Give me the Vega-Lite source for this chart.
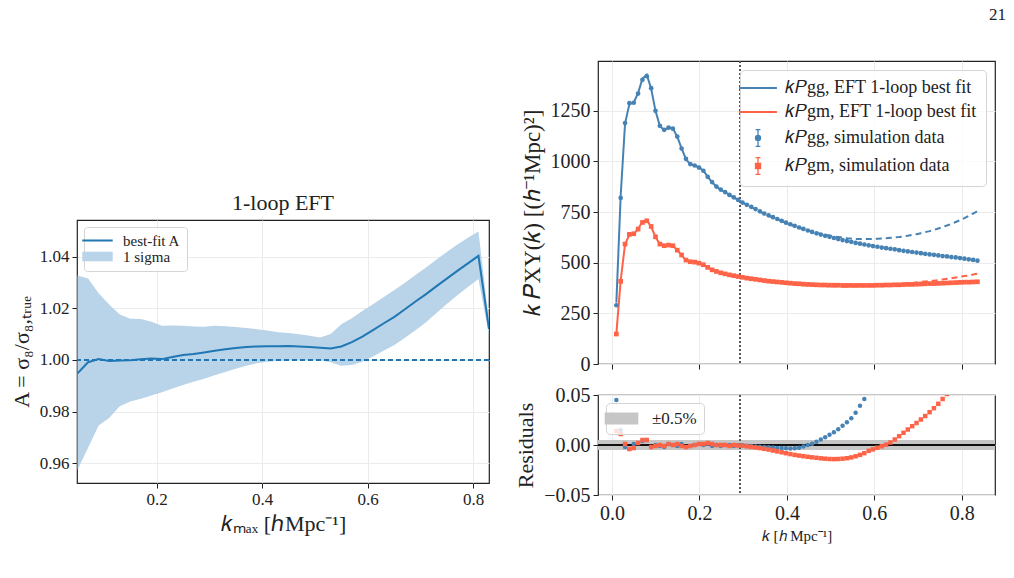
{
  "$schema": "https://vega.github.io/schema/vega-lite/v6.json",
  "background": "white",
  "padding": {"left": 9, "top": 5, "right": 5, "bottom": 5},
  "title": {"text": "21", "anchor": "end", "fontSize": 17, "fontWeight": "normal", "offset": 36, "dx": 10},
  "datasets": {
    "amp": [
      {"km": 0.05, "A": 0.9948, "lo": 0.9574, "hi": 1.0327},
      {"km": 0.07, "A": 0.9991, "lo": 0.9660, "hi": 1.0315},
      {"km": 0.09, "A": 1.0003, "lo": 0.9746, "hi": 1.0258},
      {"km": 0.11, "A": 0.9996, "lo": 0.9775, "hi": 1.0215},
      {"km": 0.13, "A": 0.9998, "lo": 0.9820, "hi": 1.0176},
      {"km": 0.15, "A": 0.9999, "lo": 0.9839, "hi": 1.0159},
      {"km": 0.17, "A": 1.0002, "lo": 0.9849, "hi": 1.0158},
      {"km": 0.19, "A": 1.0005, "lo": 0.9862, "hi": 1.0148},
      {"km": 0.21, "A": 1.0003, "lo": 0.9875, "hi": 1.0132},
      {"km": 0.23, "A": 1.0011, "lo": 0.9889, "hi": 1.0133},
      {"km": 0.25, "A": 1.0019, "lo": 0.9903, "hi": 1.0132},
      {"km": 0.27, "A": 1.0023, "lo": 0.9915, "hi": 1.0129},
      {"km": 0.29, "A": 1.0029, "lo": 0.9927, "hi": 1.0128},
      {"km": 0.31, "A": 1.0035, "lo": 0.9940, "hi": 1.0132},
      {"km": 0.33, "A": 1.0041, "lo": 0.9953, "hi": 1.0130},
      {"km": 0.35, "A": 1.0046, "lo": 0.9966, "hi": 1.0127},
      {"km": 0.37, "A": 1.0050, "lo": 0.9977, "hi": 1.0124},
      {"km": 0.39, "A": 1.0052, "lo": 0.9987, "hi": 1.0119},
      {"km": 0.41, "A": 1.0053, "lo": 0.9993, "hi": 1.0114},
      {"km": 0.43, "A": 1.0053, "lo": 0.9996, "hi": 1.0107},
      {"km": 0.45, "A": 1.0054, "lo": 0.9999, "hi": 1.0104},
      {"km": 0.47, "A": 1.0052, "lo": 0.9999, "hi": 1.0099},
      {"km": 0.49, "A": 1.0050, "lo": 0.9999, "hi": 1.0094},
      {"km": 0.51, "A": 1.0047, "lo": 0.9999, "hi": 1.0087},
      {"km": 0.53, "A": 1.0044, "lo": 0.9991, "hi": 1.0100},
      {"km": 0.55, "A": 1.0052, "lo": 0.9977, "hi": 1.0138},
      {"km": 0.57, "A": 1.0069, "lo": 0.9980, "hi": 1.0161},
      {"km": 0.59, "A": 1.0090, "lo": 0.9993, "hi": 1.0189},
      {"km": 0.61, "A": 1.0115, "lo": 1.0013, "hi": 1.0216},
      {"km": 0.63, "A": 1.0141, "lo": 1.0035, "hi": 1.0243},
      {"km": 0.65, "A": 1.0166, "lo": 1.0057, "hi": 1.0270},
      {"km": 0.67, "A": 1.0195, "lo": 1.0085, "hi": 1.0298},
      {"km": 0.69, "A": 1.0225, "lo": 1.0114, "hi": 1.0328},
      {"km": 0.71, "A": 1.0254, "lo": 1.0145, "hi": 1.0357},
      {"km": 0.73, "A": 1.0285, "lo": 1.0181, "hi": 1.0388},
      {"km": 0.75, "A": 1.0315, "lo": 1.0217, "hi": 1.0418},
      {"km": 0.77, "A": 1.0345, "lo": 1.0250, "hi": 1.0447},
      {"km": 0.79, "A": 1.0374, "lo": 1.0282, "hi": 1.0473},
      {"km": 0.81, "A": 1.0403, "lo": 1.0313, "hi": 1.0497},
      {"km": 0.83, "A": 1.0120, "lo": 1.0095, "hi": 1.0150}
    ],
    "pk": [
      {"k": 0.0100, "gg": 290, "gm": 148, "fgg": 303, "fgm": 150, "rgg": 0.045, "rgm": 0.014},
      {"k": 0.0199, "gg": 820, "gm": 408, "fgg": 832, "fgm": 412.5, "rgg": 0.015, "rgm": 0.011},
      {"k": 0.0299, "gg": 1190, "gm": 592, "fgg": 1188, "fgm": 592.6, "rgg": -0.002, "rgm": 0.001},
      {"k": 0.0398, "gg": 1288, "gm": 640, "fgg": 1283, "fgm": 637.4, "rgg": -0.004, "rgm": -0.004},
      {"k": 0.0498, "gg": 1290, "gm": 643, "fgg": 1291, "fgm": 641.1, "rgg": 0.001, "rgm": -0.003},
      {"k": 0.0597, "gg": 1335, "gm": 666, "fgg": 1338, "fgm": 667.3, "rgg": 0.002, "rgm": 0.002},
      {"k": 0.0697, "gg": 1403, "gm": 699, "fgg": 1409, "fgm": 702.5, "rgg": 0.004, "rgm": 0.005},
      {"k": 0.0796, "gg": 1421, "gm": 707, "fgg": 1428, "fgm": 710.5, "rgg": 0.005, "rgm": 0.005},
      {"k": 0.0896, "gg": 1362, "gm": 679, "fgg": 1359, "fgm": 677.6, "rgg": -0.002, "rgm": -0.002},
      {"k": 0.0995, "gg": 1250, "gm": 628, "fgg": 1250, "fgm": 627.4, "rgg": 0.000, "rgm": -0.001},
      {"k": 0.1095, "gg": 1176, "gm": 592, "fgg": 1175, "fgm": 592, "rgg": -0.001, "rgm": 0.000},
      {"k": 0.1194, "gg": 1156, "gm": 584, "fgg": 1154, "fgm": 583.4, "rgg": -0.002, "rgm": -0.001},
      {"k": 0.1294, "gg": 1167, "gm": 587, "fgg": 1168, "fgm": 587.6, "rgg": 0.001, "rgm": 0.001},
      {"k": 0.1393, "gg": 1162, "gm": 584, "fgg": 1162, "fgm": 584, "rgg": 0.000, "rgm": 0.000},
      {"k": 0.1493, "gg": 1123, "gm": 562, "fgg": 1122, "fgm": 562.6, "rgg": -0.001, "rgm": 0.001},
      {"k": 0.1592, "gg": 1064, "gm": 538, "fgg": 1065, "fgm": 537.5, "rgg": 0.001, "rgm": -0.001},
      {"k": 0.1692, "gg": 1013, "gm": 513, "fgg": 1011, "fgm": 512, "rgg": -0.002, "rgm": -0.002},
      {"k": 0.1791, "gg": 987, "gm": 505, "fgg": 986, "fgm": 504.5, "rgg": -0.001, "rgm": -0.001},
      {"k": 0.1891, "gg": 980, "gm": 503, "fgg": 980, "fgm": 503, "rgg": 0.000, "rgm": 0.000},
      {"k": 0.1990, "gg": 970, "gm": 498, "fgg": 971, "fgm": 498.5, "rgg": 0.001, "rgm": 0.001},
      {"k": 0.2090, "gg": 954, "gm": 490, "fgg": 954, "fgm": 490.5, "rgg": 0.000, "rgm": 0.001},
      {"k": 0.2189, "gg": 924, "gm": 477, "fgg": 925, "fgm": 478, "rgg": 0.001, "rgm": 0.002},
      {"k": 0.2289, "gg": 898, "gm": 465, "fgg": 897, "fgm": 465.5, "rgg": -0.001, "rgm": 0.001},
      {"k": 0.2388, "gg": 876, "gm": 457, "fgg": 876, "fgm": 457, "rgg": 0.000, "rgm": 0.000},
      {"k": 0.2488, "gg": 861, "gm": 450, "fgg": 860, "fgm": 450, "rgg": -0.001, "rgm": 0.000},
      {"k": 0.2587, "gg": 849, "gm": 445, "fgg": 849, "fgm": 445, "rgg": 0.000, "rgm": 0.000},
      {"k": 0.2687, "gg": 835, "gm": 440, "fgg": 835, "fgm": 439.6, "rgg": 0.000, "rgm": -0.001},
      {"k": 0.2786, "gg": 823, "gm": 436, "fgg": 822, "fgm": 436, "rgg": -0.001, "rgm": 0.000},
      {"k": 0.2886, "gg": 810, "gm": 432, "fgg": 810, "fgm": 431.8, "rgg": 0.000, "rgm": -0.0005},
      {"k": 0.2985, "gg": 797, "gm": 428, "fgg": 796.8, "fgm": 427.7, "rgg": -0.0003, "rgm": -0.0007},
      {"k": 0.3085, "gg": 786, "gm": 424, "fgg": 785.4, "fgm": 423.4, "rgg": -0.0008, "rgm": -0.0013},
      {"k": 0.3184, "gg": 776, "gm": 421, "fgg": 775.1, "fgm": 420.2, "rgg": -0.0011, "rgm": -0.0019},
      {"k": 0.3284, "gg": 765, "gm": 418, "fgg": 763.9, "fgm": 417.0, "rgg": -0.0014, "rgm": -0.0025},
      {"k": 0.3383, "gg": 754, "gm": 415, "fgg": 752.7, "fgm": 413.7, "rgg": -0.0017, "rgm": -0.0031},
      {"k": 0.3483, "gg": 743, "gm": 412, "fgg": 741.5, "fgm": 410.4, "rgg": -0.0020, "rgm": -0.0038},
      {"k": 0.3582, "gg": 734, "gm": 409, "fgg": 732.3, "fgm": 407.1, "rgg": -0.0023, "rgm": -0.0046},
      {"k": 0.3682, "gg": 725, "gm": 407, "fgg": 723.1, "fgm": 404.8, "rgg": -0.0026, "rgm": -0.0055},
      {"k": 0.3781, "gg": 716, "gm": 405, "fgg": 713.9, "fgm": 402.4, "rgg": -0.0029, "rgm": -0.0064},
      {"k": 0.3881, "gg": 707, "gm": 403, "fgg": 704.8, "fgm": 400.1, "rgg": -0.0031, "rgm": -0.0073},
      {"k": 0.3980, "gg": 698, "gm": 401, "fgg": 695.7, "fgm": 397.7, "rgg": -0.0033, "rgm": -0.0082},
      {"k": 0.4080, "gg": 690, "gm": 399, "fgg": 687.7, "fgm": 395.4, "rgg": -0.0034, "rgm": -0.0091},
      {"k": 0.4179, "gg": 682, "gm": 397, "fgg": 679.8, "fgm": 393.1, "rgg": -0.0033, "rgm": -0.0099},
      {"k": 0.4279, "gg": 674, "gm": 396, "fgg": 672.1, "fgm": 391.8, "rgg": -0.0028, "rgm": -0.0106},
      {"k": 0.4378, "gg": 667, "gm": 394, "fgg": 666.0, "fgm": 389.6, "rgg": -0.0015, "rgm": -0.0112},
      {"k": 0.4478, "gg": 659, "gm": 393, "fgg": 659.0, "fgm": 388.4, "rgg": 0.0000, "rgm": -0.0118},
      {"k": 0.4577, "gg": 652, "gm": 392, "fgg": 652.8, "fgm": 387.2, "rgg": 0.0013, "rgm": -0.0123},
      {"k": 0.4677, "gg": 645, "gm": 391, "fgg": 647.1, "fgm": 386.0, "rgg": 0.0033, "rgm": -0.0128},
      {"k": 0.4776, "gg": 639, "gm": 390, "fgg": 642.5, "fgm": 384.8, "rgg": 0.0055, "rgm": -0.0133},
      {"k": 0.4876, "gg": 633, "gm": 390, "fgg": 637.9, "fgm": 384.7, "rgg": 0.0077, "rgm": -0.0137},
      {"k": 0.4975, "gg": 628, "gm": 389, "fgg": 634.4, "fgm": 383.6, "rgg": 0.0102, "rgm": -0.0140},
      {"k": 0.5075, "gg": 622, "gm": 389, "fgg": 630.0, "fgm": 383.5, "rgg": 0.0128, "rgm": -0.0141},
      {"k": 0.5174, "gg": 617, "gm": 389, "fgg": 626.7, "fgm": 383.6, "rgg": 0.0158, "rgm": -0.0140},
      {"k": 0.5274, "gg": 612, "gm": 388, "fgg": 623.8, "fgm": 382.7, "rgg": 0.0192, "rgm": -0.0137},
      {"k": 0.5373, "gg": 607, "gm": 388, "fgg": 620.8, "fgm": 382.9, "rgg": 0.0228, "rgm": -0.0132},
      {"k": 0.5473, "gg": 603, "gm": 388, "fgg": 619.2, "fgm": 383.2, "rgg": 0.0268, "rgm": -0.0124},
      {"k": 0.5572, "gg": 598, "gm": 388, "fgg": 617.3, "fgm": 383.6, "rgg": 0.0322, "rgm": -0.0113},
      {"k": 0.5672, "gg": 594, "gm": 388, "fgg": 617.3, "fgm": 384.2, "rgg": 0.0392, "rgm": -0.0099},
      {"k": 0.5771, "gg": 590, "gm": 388, "fgg": 617.1, "fgm": 384.8, "rgg": 0.0460, "rgm": -0.0082},
      {"k": 0.5871, "gg": 586, "gm": 388, "fgg": 617.1, "fgm": 385.7, "rgg": 0.0530, "rgm": -0.0058},
      {"k": 0.5970, "gg": 582, "gm": 388, "fgg": 618, "fgm": 386.3, "rgg": 0.062, "rgm": -0.0043},
      {"k": 0.6070, "gg": 579, "gm": 389, "fgg": 619, "fgm": 387.9, "rgg": 0.069, "rgm": -0.0027},
      {"k": 0.6169, "gg": 575, "gm": 389, "fgg": 620, "fgm": 388.5, "rgg": 0.078, "rgm": -0.0013},
      {"k": 0.6269, "gg": 572, "gm": 390, "fgg": 621, "fgm": 390.1, "rgg": 0.086, "rgm": 0.0003},
      {"k": 0.6368, "gg": 569, "gm": 390, "fgg": 623, "fgm": 391.0, "rgg": 0.095, "rgm": 0.0025},
      {"k": 0.6468, "gg": 566, "gm": 391, "fgg": 625, "fgm": 393.2, "rgg": 0.104, "rgm": 0.0055},
      {"k": 0.6567, "gg": 562, "gm": 391, "fgg": 627, "fgm": 394.4, "rgg": 0.116, "rgm": 0.0088},
      {"k": 0.6667, "gg": 559, "gm": 392, "fgg": 630, "fgm": 396.8, "rgg": 0.127, "rgm": 0.0122},
      {"k": 0.6766, "gg": 556, "gm": 393, "fgg": 633, "fgm": 399.1, "rgg": 0.138, "rgm": 0.0155},
      {"k": 0.6866, "gg": 553, "gm": 393, "fgg": 637, "fgm": 400.4, "rgg": 0.152, "rgm": 0.0188},
      {"k": 0.6965, "gg": 550, "gm": 394, "fgg": 641, "fgm": 402.7, "rgg": 0.165, "rgm": 0.0220},
      {"k": 0.7065, "gg": 547, "gm": 395, "fgg": 646, "fgm": 405.1, "rgg": 0.181, "rgm": 0.0255},
      {"k": 0.7164, "gg": 544, "gm": 396, "fgg": 651, "fgm": 407.5, "rgg": 0.197, "rgm": 0.0290},
      {"k": 0.7264, "gg": 541, "gm": 397, "fgg": 656, "fgm": 410.0, "rgg": 0.213, "rgm": 0.0328},
      {"k": 0.7363, "gg": 539, "gm": 397, "fgg": 662, "fgm": 411.6, "rgg": 0.228, "rgm": 0.0368},
      {"k": 0.7463, "gg": 536, "gm": 398, "fgg": 669, "fgm": 414.4, "rgg": 0.248, "rgm": 0.0412},
      {"k": 0.7562, "gg": 533, "gm": 399, "fgg": 676, "fgm": 417.4, "rgg": 0.268, "rgm": 0.0460},
      {"k": 0.7662, "gg": 531, "gm": 400, "fgg": 684, "fgm": 420.4, "rgg": 0.288, "rgm": 0.051},
      {"k": 0.7761, "gg": 528, "gm": 401, "fgg": 692, "fgm": 423.5, "rgg": 0.311, "rgm": 0.056},
      {"k": 0.7861, "gg": 526, "gm": 402, "fgg": 701, "fgm": 426.9, "rgg": 0.333, "rgm": 0.062},
      {"k": 0.7960, "gg": 523, "gm": 403, "fgg": 710, "fgm": 430.4, "rgg": 0.358, "rgm": 0.068},
      {"k": 0.8060, "gg": 520, "gm": 404, "fgg": 720, "fgm": 434.3, "rgg": 0.385, "rgm": 0.075},
      {"k": 0.8159, "gg": 517, "gm": 404, "fgg": 731, "fgm": 437.1, "rgg": 0.414, "rgm": 0.082},
      {"k": 0.8259, "gg": 514, "gm": 405, "fgg": 743, "fgm": 441.5, "rgg": 0.446, "rgm": 0.090},
      {"k": 0.8358, "gg": 510, "gm": 406, "fgg": 755, "fgm": 445.8, "rgg": 0.480, "rgm": 0.098}
    ]
  },
  "hconcat": [
    {
      "spacing": 0,
      "resolve": {"legend": {"color": "independent"}},
      "vconcat": [
        {
          "width": 412,
          "height": 130,
          "view": {"stroke": null},
          "data": {"values": [{"z": 0}]},
          "mark": {"type": "point", "opacity": 0},
          "encoding": {}
        },
        {
          "width": 412,
          "height": 263,
          "title": {"text": "1-loop EFT", "fontSize": 22, "fontWeight": "normal", "offset": 5},
          "data": {"name": "amp"},
          "layer": [
            {
              "transform": [{"fold": ["lo"], "as": ["s", "lov"]}],
              "mark": {"type": "area", "opacity": 1, "clip": true},
              "encoding": {
                "x": {"field": "km", "type": "quantitative", "scale": {"domain": [0.049, 0.83], "nice": false, "zero": false},
                      "axis": {"values": [0.2, 0.4, 0.6, 0.8], "format": ".1f", "labelFontSize": 17, "title": "𝑘ₘₐₓ [ℎMpc⁻¹]", "titleFontSize": 22, "titlePadding": 6, "grid": true}},
                "y": {"field": "lov", "type": "quantitative", "scale": {"domain": [0.9523, 1.0542], "nice": false, "zero": false},
                      "axis": {"values": [0.96, 0.98, 1.0, 1.02, 1.04], "format": ".2f", "labelFontSize": 17, "title": "A = σ₈/σ₈,ₜᵣᵤₑ", "titleFontSize": 22, "titlePadding": 6, "grid": true}},
                "y2": {"field": "hi"},
                "fill": {"field": "s", "type": "nominal", "scale": {"domain": ["lo"], "range": ["#b9d3e9"]}, "legend": null}
              }
            },
            {
              "transform": [{"fold": ["A"], "as": ["s", "v"]}],
              "mark": {"type": "line", "strokeWidth": 2, "clip": true},
              "encoding": {
                "x": {"field": "km", "type": "quantitative", "scale": {"domain": [0.049, 0.83], "nice": false, "zero": false}},
                "y": {"field": "v", "type": "quantitative", "scale": {"domain": [0.9523, 1.0542], "nice": false, "zero": false}},
                "color": {
                  "field": "s", "type": "nominal",
                  "scale": {"domain": ["A", "lo"], "range": ["#1f77b4", "#b9d3e9"]},
                  "legend": {
                    "title": null, "orient": "top-left", "offset": 7, "padding": 6, "rowPadding": 0,
                    "labelFontSize": 15, "labelOffset": 18, "symbolSize": 256, "labelColor": "#222",
                    "strokeColor": "#d4d4d4", "fillColor": "rgba(255,255,255,0.8)", "cornerRadius": 3,
                    "labelExpr": "datum.value == 'lo' ? '1 sigma' : 'best-fit A'",
                    "encode": {
                      "symbols": {
                        "update": {
                          "shape": {"signal": "datum.value == 'lo' ? 'M-1.9,-0.6L1.9,-0.6L1.9,0.6L-1.9,0.6Z' : 'M-1.9,0L1.9,0'"},
                          "fill": {"signal": "datum.value == 'lo' ? '#b9d3e9' : 'transparent'"},
                          "stroke": {"signal": "datum.value == 'lo' ? 'transparent' : '#1f77b4'"},
                          "strokeWidth": {"signal": "datum.value == 'lo' ? 0 : 2"},
                          "opacity": {"value": 1}
                        }
                      }
                    }
                  }
                }
              }
            },
            {
              "mark": {"type": "rule", "strokeDash": [5, 3], "strokeWidth": 1.3, "color": "#1f77b4"},
              "encoding": {
                "y": {"datum": 1, "type": "quantitative", "scale": {"domain": [0.9523, 1.0542], "nice": false, "zero": false}}
              }
            }
          ]
        }
      ]
    },
    {
      "spacing": 9,
      "resolve": {"scale": {"x": "independent", "y": "independent", "color": "independent", "shape": "independent", "fill": "independent"}, "legend": {"color": "independent"}},
      "vconcat": [
        {
          "width": 397,
          "height": 303,
          "data": {"name": "pk"},
          "layer": [
            {
              "mark": {"type": "rule", "strokeDash": [2, 2], "strokeWidth": 1.2, "color": "#555"},
              "encoding": {
                "x": {"datum": 0.293, "type": "quantitative", "scale": {"domain": [-0.032, 0.876], "nice": false, "zero": false}}
              }
            },
            {
              "transform": [{"filter": "datum.k <= 0.299"}, {"fold": ["fgg", "fgm"], "as": ["s", "v"]}],
              "mark": {"type": "line", "strokeWidth": 2},
              "encoding": {
                "x": {"field": "k", "type": "quantitative", "scale": {"domain": [-0.032, 0.876], "nice": false, "zero": false},
                      "axis": {"values": [0, 0.2, 0.4, 0.6, 0.8], "labels": false, "title": null, "grid": true}},
                "y": {"field": "v", "type": "quantitative", "scale": {"domain": [0, 1496], "nice": false, "zero": false},
                      "axis": {"values": [0, 250, 500, 750, 1000, 1250], "format": "d", "labelFontSize": 20, "title": "𝑘 𝑃XY(𝑘) [(ℎ⁻¹Mpc)²]", "titleFontSize": 23, "titlePadding": 6, "grid": true}},
                "color": {
                  "field": "s", "type": "nominal",
                  "scale": {"domain": ["fgg", "fgm", "gg", "gm"], "range": ["#4682b4", "#ff6347", "#4682b4", "#ff6347"]},
                  "legend": {
                    "title": null, "orient": "top-right", "offset": 9, "padding": 9, "rowPadding": 6,
                    "labelFontSize": 18, "labelOffset": 18, "labelLimit": 400, "symbolSize": 441, "labelColor": "#222",
                    "strokeColor": "#d4d4d4", "fillColor": "rgba(255,255,255,0.8)", "cornerRadius": 4,
                    "labelExpr": "{'fgg': '𝑘𝑃gg, EFT 1-loop best fit', 'fgm': '𝑘𝑃gm, EFT 1-loop best fit', 'gg': '𝑘𝑃gg, simulation data', 'gm': '𝑘𝑃gm, simulation data'}[datum.value]",
                    "encode": {
                      "symbols": {
                        "update": {
                          "shape": {"signal": "datum.value == 'fgg' || datum.value == 'fgm' ? 'M-1.8,0L1.8,0' : datum.value == 'gg' ? 'M-0.24,0A0.24,0.24 0 1,0 0.24,0A0.24,0.24 0 1,0 -0.24,0ZM0,-0.8L0,0.8M-0.23,-0.8L0.23,-0.8M-0.23,0.8L0.23,0.8' : 'M-0.24,-0.24L0.24,-0.24L0.24,0.24L-0.24,0.24ZM0,-0.8L0,0.8M-0.23,-0.8L0.23,-0.8M-0.23,0.8L0.23,0.8'"},
                          "fill": {"signal": "datum.value == 'gg' ? '#4682b4' : datum.value == 'gm' ? '#ff6347' : 'transparent'"},
                          "stroke": {"signal": "datum.value == 'fgg' || datum.value == 'gg' ? '#4682b4' : '#ff6347'"},
                          "strokeWidth": {"signal": "datum.value == 'fgg' || datum.value == 'fgm' ? 2 : 1.3"},
                          "opacity": {"value": 1}
                        }
                      }
                    }
                  }
                }
              }
            },
            {
              "transform": [{"filter": "datum.k >= 0.298"}, {"fold": ["fgg", "fgm"], "as": ["s", "v"]}],
              "mark": {"type": "line", "strokeWidth": 2, "strokeDash": [6, 4]},
              "encoding": {
                "x": {"field": "k", "type": "quantitative", "scale": {"domain": [-0.032, 0.876], "nice": false, "zero": false}},
                "y": {"field": "v", "type": "quantitative", "scale": {"domain": [0, 1496], "nice": false, "zero": false}},
                "color": {"field": "s", "type": "nominal"}
              }
            },
            {
              "transform": [{"fold": ["gg", "gm"], "as": ["s", "v"]}],
              "mark": {"type": "point", "filled": true, "size": 22, "opacity": 1},
              "encoding": {
                "x": {"field": "k", "type": "quantitative", "scale": {"domain": [-0.032, 0.876], "nice": false, "zero": false}},
                "y": {"field": "v", "type": "quantitative", "scale": {"domain": [0, 1496], "nice": false, "zero": false}},
                "color": {"field": "s", "type": "nominal"},
                "shape": {"field": "s", "type": "nominal", "scale": {"domain": ["gg", "gm"], "range": ["circle", "square"]}, "legend": null}
              }
            }
          ]
        },
        {
          "width": 397,
          "height": 100,
          "data": {"name": "pk"},
          "layer": [
            {
              "data": {"values": [{"lo": -0.005, "hi": 0.005, "b": "±0.5%"}]},
              "mark": {"type": "rect", "opacity": 1},
              "encoding": {
                "x": {"datum": -0.032, "type": "quantitative", "scale": {"domain": [-0.032, 0.876], "nice": false, "zero": false}},
                "x2": {"datum": 0.876},
                "y": {"field": "lo", "type": "quantitative", "scale": {"domain": [-0.05, 0.05], "nice": false, "zero": false}},
                "y2": {"field": "hi"},
                "color": {
                  "field": "b", "type": "nominal", "scale": {"range": ["#c6c6c6"]},
                  "legend": {
                    "title": null, "orient": "top-left", "offset": 8, "padding": 7,
                    "labelFontSize": 17, "labelOffset": 22, "symbolSize": 196, "labelColor": "#222",
                    "symbolType": "M-2.4,-0.85L2.4,-0.85L2.4,0.85L-2.4,0.85Z", "symbolStrokeWidth": 0,
                    "strokeColor": "#d4d4d4", "fillColor": "rgba(255,255,255,0.8)", "cornerRadius": 4
                  }
                }
              }
            },
            {
              "mark": {"type": "rule", "color": "#111", "strokeWidth": 0.9},
              "encoding": {
                "y": {"datum": 0, "type": "quantitative", "scale": {"domain": [-0.05, 0.05], "nice": false, "zero": false}}
              }
            },
            {
              "mark": {"type": "rule", "strokeDash": [2, 2], "strokeWidth": 1.2, "color": "#555"},
              "encoding": {
                "x": {"datum": 0.293, "type": "quantitative", "scale": {"domain": [-0.032, 0.876], "nice": false, "zero": false}}
              }
            },
            {
              "transform": [{"fold": ["rgg", "rgm"], "as": ["s", "v"]}],
              "mark": {"type": "point", "filled": true, "size": 20, "opacity": 1, "clip": true},
              "encoding": {
                "x": {"field": "k", "type": "quantitative", "scale": {"domain": [-0.032, 0.876], "nice": false, "zero": false},
                      "axis": {"values": [0, 0.2, 0.4, 0.6, 0.8], "format": ".1f", "labelFontSize": 20, "title": "𝑘 [ℎ Mpc⁻¹]", "titleFontSize": 15, "titlePadding": 5, "grid": true}},
                "y": {"field": "v", "type": "quantitative", "scale": {"domain": [-0.05, 0.05], "nice": false, "zero": false},
                      "axis": {"values": [-0.05, 0, 0.05], "format": ".2f", "labelFontSize": 20, "title": "Residuals", "titleFontSize": 22, "titlePadding": 6, "grid": true}},
                "fill": {"field": "s", "type": "nominal", "scale": {"domain": ["rgg", "rgm"], "range": ["#4682b4", "#ff6347"]}, "legend": null},
                "shape": {"field": "s", "type": "nominal", "scale": {"domain": ["rgg", "rgm"], "range": ["circle", "square"]}, "legend": null}
              }
            }
          ]
        }
      ]
    }
  ],
  "spacing": 23,
  "resolve": {"scale": {"x": "independent", "y": "independent", "color": "independent", "shape": "independent", "fill": "independent"}, "legend": {"color": "independent"}},
  "config": {
    "font": "Liberation Serif",
    "view": {"stroke": "#222", "strokeWidth": 1.2},
    "axis": {
      "domain": false, "tickColor": "#222", "tickSize": 5, "gridColor": "#ebebeb",
      "labelColor": "#222", "titleColor": "#222", "titleFontWeight": "normal",
      "labelFont": "Liberation Serif", "titleFont": "Liberation Serif", "labelPadding": 3
    },
    "legend": {"labelFont": "Liberation Serif"},
    "title": {"font": "Liberation Serif", "color": "#222"}
  }
}
